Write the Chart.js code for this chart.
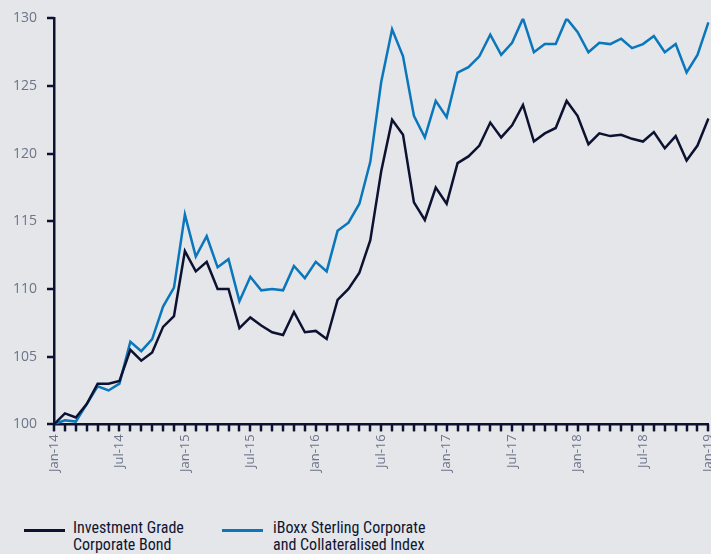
<!DOCTYPE html>
<html>
<head>
<meta charset="utf-8">
<script src="https://cdn.jsdelivr.net/npm/chart.js@4"></script>
<style>
  html, body { margin: 0; padding: 0; background: #e4e6ea; width: 711px; height: 554px; overflow: hidden; }
  #wrap { position: relative; width: 727px; height: 475px; }
  .legend { position: absolute; top: 519px; left: 0; width: 711px; font-family: "Liberation Sans Narrow", "Roboto Condensed", "Liberation Sans", sans-serif; font-size: 16px; line-height: 17px; color: #0f1530; }
  .item { position: absolute; top: 0; }
  .swatch { position: absolute; top: 10px; width: 41px; height: 3px; }
  .label { position: absolute; top: 0; white-space: nowrap; }
</style>
</head>
<body>
<div id="wrap"><canvas id="chart" width="727" height="475"></canvas></div>
<div class="legend">
  <div class="item" style="left:24px"><div class="swatch" style="background:#0c1230"></div><div class="label" style="left:49px">Investment Grade<br>Corporate Bond</div></div>
  <div class="item" style="left:222px"><div class="swatch" style="background:#0a76bb"></div><div class="label" style="left:51px">iBoxx Sterling Corporate<br>and Collateralised Index</div></div>
</div>
<script>
// month labels Jan-14 .. Jan-19
const months = [
  'Jan-14','Feb-14','Mar-14','Apr-14','May-14','Jun-14','Jul-14','Aug-14','Sep-14','Oct-14','Nov-14','Dec-14',
  'Jan-15','Feb-15','Mar-15','Apr-15','May-15','Jun-15','Jul-15','Aug-15','Sep-15','Oct-15','Nov-15','Dec-15',
  'Jan-16','Feb-16','Mar-16','Apr-16','May-16','Jun-16','Jul-16','Aug-16','Sep-16','Oct-16','Nov-16','Dec-16',
  'Jan-17','Feb-17','Mar-17','Apr-17','May-17','Jun-17','Jul-17','Aug-17','Sep-17','Oct-17','Nov-17','Dec-17',
  'Jan-18','Feb-18','Mar-18','Apr-18','May-18','Jun-18','Jul-18','Aug-18','Sep-18','Oct-18','Nov-18','Dec-18',
  'Jan-19'
];
// only these get a printed tick label
const shownLabels = ['Jan-14','Jul-14','Jan-15','Jul-15','Jan-16','Jul-16','Jan-17','Jul-17','Jan-18','Jul-18','Jan-19'];
const yTicks = [100, 105, 110, 115, 120, 125, 130];

const investmentGrade = [
  100.0, 100.8, 100.5, 101.5, 103.0, 103.0, 103.2, 105.5, 104.7, 105.3, 107.2, 108.0,
  112.8, 111.3, 112.0, 110.0, 110.0, 107.1, 107.9, 107.3, 106.8, 106.6, 108.3, 106.8,
  106.9, 106.3, 109.2, 110.0, 111.2, 113.6, 118.7, 122.5, 121.4, 116.4, 115.1, 117.5,
  116.3, 119.3, 119.8, 120.6, 122.3, 121.2, 122.1, 123.6, 120.9, 121.5, 121.9, 123.9,
  122.8, 120.7, 121.5, 121.3, 121.4, 121.1, 120.9, 121.6, 120.4, 121.3, 119.5, 120.6,
  122.6
];
const iboxx = [
  100.0, 100.3, 100.2, 101.5, 102.8, 102.5, 103.0, 106.1, 105.4, 106.3, 108.7, 110.1,
  115.5, 112.4, 113.9, 111.6, 112.2, 109.1, 110.9, 109.9, 110.0, 109.9, 111.7, 110.8,
  112.0, 111.3, 114.3, 114.9, 116.3, 119.4, 125.3, 129.2, 127.2, 122.8, 121.2, 123.9,
  122.7, 126.0, 126.4, 127.2, 128.8, 127.3, 128.2, 130.0, 127.5, 128.1, 128.1, 130.0,
  129.0, 127.5, 128.2, 128.1, 128.5, 127.8, 128.1, 128.7, 127.5, 128.1, 126.0, 127.3,
  129.7
];

const axisColor = '#0c1230';
const tickColor = '#6c7489';
const TICK_LEN = 7;

// tick marks outside the axes, placed through the scales
const tickMarks = {
  id: 'tickMarks',
  afterDraw(chart) {
    const ctx = chart.ctx;
    const xs = chart.scales.x, ys = chart.scales.y;
    const area = chart.chartArea;
    ctx.save();
    ctx.strokeStyle = axisColor;
    ctx.lineWidth = 2.5;
    ctx.beginPath();
    for (let i = 0; i < months.length; i++) {
      const px = Math.round(xs.getPixelForValue(i));
      ctx.moveTo(px, area.bottom);
      ctx.lineTo(px, area.bottom + TICK_LEN);
    }
    yTicks.forEach(v => {
      const py = Math.round(ys.getPixelForValue(v));
      ctx.moveTo(area.left - TICK_LEN, py);
      ctx.lineTo(area.left, py);
    });
    ctx.stroke();
    ctx.restore();
  }
};

new Chart(document.getElementById('chart'), {
  type: 'line',
  data: {
    labels: months,
    datasets: [
      { label: 'Investment Grade Corporate Bond', data: investmentGrade, borderColor: '#0c1230', borderWidth: 2.5, pointRadius: 0, tension: 0 },
      { label: 'iBoxx Sterling Corporate and Collateralised Index', data: iboxx, borderColor: '#0a76bb', borderWidth: 2.5, pointRadius: 0, tension: 0 }
    ]
  },
  options: {
    responsive: false,
    animation: false,
    layout: { padding: { left: 3, top: 9, right: 0, bottom: 0 } },
    plugins: { legend: { display: false }, tooltip: { enabled: false } },
    scales: {
      x: {
        offset: false,
        grid: { drawOnChartArea: false, drawTicks: true, tickLength: TICK_LEN, color: axisColor, lineWidth: 2 },
        border: { display: true, color: axisColor, width: 2.5 },
        ticks: {
          autoSkip: false, maxRotation: 90, minRotation: 90, padding: 3,
          color: tickColor, font: { family: "'Open Sans', sans-serif", size: 13 },
          callback: function (v) { const l = months[v]; return shownLabels.includes(l) ? l : ''; }
        }
      },
      y: {
        min: 100, max: 130,
        grid: { drawOnChartArea: false, drawTicks: true, tickLength: TICK_LEN, color: axisColor, lineWidth: 2 },
        border: { display: true, color: axisColor, width: 2.5 },
        ticks: { stepSize: 5, padding: 10, color: tickColor, font: { family: "'Open Sans', sans-serif", size: 14 } }
      }
    }
  },
  plugins: [tickMarks]
});
</script>
</body>
</html>
